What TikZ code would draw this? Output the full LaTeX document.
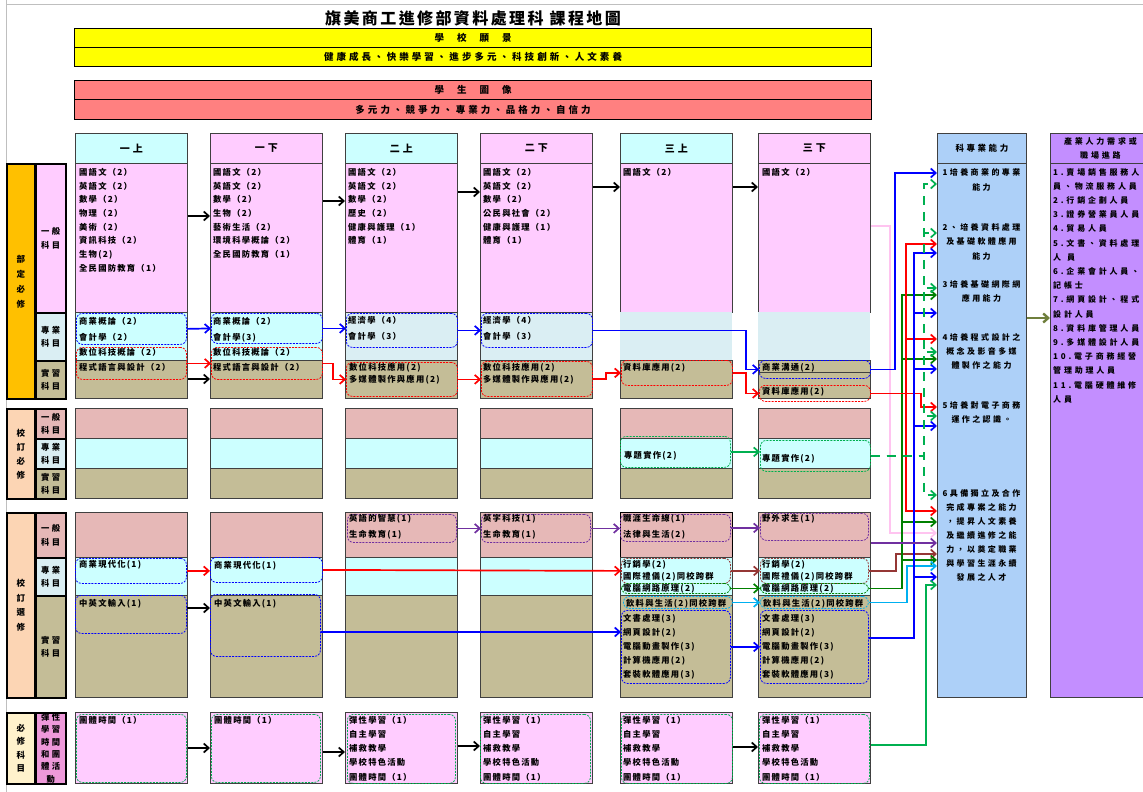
\documentclass[tikz,border=0pt]{standalone}
\usepackage{fontspec}
\setmainfont{Noto Sans CJK TC}
\newfontfamily\cjksp[LetterSpace=15]{Noto Sans CJK TC}
\newfontfamily\cjkwide[LetterSpace=30]{Noto Sans CJK TC}
\newfontfamily\cjkbar[LetterSpace=32]{Noto Sans CJK TC}
\newfontfamily\cjkjob[LetterSpace=35]{Noto Sans CJK TC}
\usepackage{xcolor}
\usetikzlibrary{arrows.meta}
\definecolor{visionyellow}{HTML}{FFFF00}
\definecolor{portraitred}{HTML}{FF8080}
\definecolor{cellpink}{HTML}{FFCCFF}
\definecolor{cellcyan}{HTML}{CCFFFF}
\definecolor{cellblue}{HTML}{DAEEF3}
\definecolor{celltan}{HTML}{C4BD97}
\definecolor{cellrose}{HTML}{E6B8B7}
\definecolor{lblorange}{HTML}{FFC000}
\definecolor{lblpeach}{HTML}{FCD5B4}
\definecolor{lblcream}{HTML}{FFF2CC}
\definecolor{lblmagenta}{HTML}{EE99DA}
\definecolor{compblue}{HTML}{ADD0F8}
\definecolor{jobviolet}{HTML}{C38EFF}
\definecolor{linkgreen}{HTML}{00B050}
\definecolor{darkgreen}{HTML}{008000}
\definecolor{linkpurple}{HTML}{7030A0}
\definecolor{linkbrown}{HTML}{953735}
\definecolor{linksky}{HTML}{00B0F0}
\definecolor{linkpink}{HTML}{FFC4F0}
\definecolor{linkolive}{HTML}{6F7F3C}

\begin{document}
\begin{tikzpicture}[x=1pt, y=-1pt,
    font=\bfseries,
    cellbox/.style={draw=black!75, line width=0.8pt, anchor=north west, inner sep=0pt, minimum width=112},
    hdrbox/.style={cellbox, font=\cjkwide\bfseries\fontsize{10}{12}\selectfont},
    barbox/.style={draw=black, line width=1.1pt, anchor=north west, inner sep=0pt, minimum width=797, font=\cjkbar\bfseries\fontsize{9.5}{11}\selectfont},
    lblbox/.style={draw=black, line width=1.5pt, anchor=north west, inner sep=0pt, minimum width=28, align=center, font=\bfseries\fontsize{8.5}{#1}\selectfont},
    sublbl/.style={draw=black, line width=1.5pt, anchor=north west, inner sep=0pt, minimum width=30, align=center, font=\cjkwide\bfseries\fontsize{8.3}{#1}\selectfont},
    sublbl/.default=13.5,
    sidebox/.style={draw=black!75, line width=0.8pt, anchor=north west, inner sep=0pt},
    dbox/.style={draw=#1, dash pattern=on 2pt off 1.2pt, line width=0.8pt, rounded corners=6pt, anchor=north west, inner sep=0pt},
    txt/.style={anchor=north west, inner sep=0pt, align=left, font=\cjksp\bfseries\fontsize{8.3}{#1}\selectfont},
    txt/.default=13.7,
    ctxt/.style={anchor=north, inner sep=0pt, align=center, font=\cjkwide\bfseries\fontsize{8}{#1}\selectfont},
    ctxt/.default=14.5,
    jtxt/.style={anchor=north west, inner sep=0pt, align=left, font=\cjkjob\bfseries\fontsize{8}{14.2}\selectfont},
    flow/.style={line width=1.7pt, -{Straight Barb[length=5pt,width=9pt]}},
    dflow/.style={flow, dash pattern=on 9pt off 7pt},
  ]
  \useasboundingbox (0,0) rectangle (1143,792);
  \draw[black!25, line width=1pt] (6,0) -- (6,792);
  \draw[black!25, line width=1pt] (6,5) -- (1143,5);
  % title and vision bars
  \node[inner sep=0pt, font=\cjksp\bfseries\fontsize{16}{18}\selectfont] (title) at (473,18) {旗美商工進修部資料處理科 課程地圖};
  \node[barbox, fill=visionyellow, minimum height=19] (vis1) at (74,28) {學\hspace{13pt}校\hspace{13pt}願\hspace{13pt}景};
  \node[barbox, fill=visionyellow, minimum height=19] (vis2) at (74,47) {健康成長、快樂學習、進步多元、科技創新、人文素養};
  \node[barbox, fill=portraitred, minimum height=19] (por1) at (74,80) {學\hspace{13pt}生\hspace{13pt}圖\hspace{13pt}像};
  \node[barbox, fill=portraitred, minimum height=20] (por2) at (74,99) {多元力、競爭力、專業力、品格力、自信力};
  % semester headers
  \node[hdrbox, fill=cellcyan, minimum height=30] (hd1) at (75,133) {一上};
  \node[hdrbox, fill=cellpink, minimum height=30] (hd2) at (210,133) {一下};
  \node[hdrbox, fill=cellcyan, minimum height=30] (hd3) at (345,133) {二上};
  \node[hdrbox, fill=cellpink, minimum height=30] (hd4) at (480,133) {二下};
  \node[hdrbox, fill=cellcyan, minimum height=30] (hd5) at (620,133) {三上};
  \node[hdrbox, fill=cellpink, minimum height=30] (hd6) at (758,133) {三下};
  % row labels
  \node[lblbox=15, fill=lblorange, minimum height=235] (lab1) at (6,163) {部\\定\\必\\修};
  \node[sublbl, fill=cellpink, minimum height=149] (sub11) at (35,163) {一般\\科目};
  \node[sublbl, fill=cellblue, minimum height=48] (sub12) at (35,312) {專業\\科目};
  \node[sublbl, fill=celltan, minimum height=38] (sub13) at (35,360) {實習\\科目};
  \node[lblbox=14, fill=lblpeach, minimum height=90] (lab2) at (6,408) {校\\訂\\必\\修};
  \node[sublbl=13, fill=cellrose, minimum height=30] (sub21) at (35,408) {一般\\科目};
  \node[sublbl=13, fill=cellblue, minimum height=30] (sub22) at (35,438) {專業\\科目};
  \node[sublbl=13, fill=celltan, minimum height=30] (sub23) at (35,468) {實習\\科目};
  \node[lblbox=14.5, fill=lblpeach, minimum height=185] (lab3) at (6,512) {校\\訂\\選\\修};
  \node[sublbl, fill=cellrose, minimum height=45] (sub31) at (35,512) {一般\\科目};
  \node[sublbl, fill=cellblue, minimum height=38] (sub32) at (35,557) {專業\\科目};
  \node[sublbl, fill=celltan, minimum height=102] (sub33) at (35,595) {實習\\科目};
  \node[lblbox=13.5, fill=lblcream, minimum height=71] (lab4) at (6,712) {必\\修\\科\\目};
  \node[sublbl=12.3, fill=lblmagenta, minimum height=71] (sub41) at (35,712) {彈性\\學習\\時間\\和團\\體活\\動};
  % 部定必修 cells
  \node[cellbox, fill=cellpink, minimum height=149] (dg1) at (75,163) {};
  \node[cellbox, fill=cellpink, minimum height=149] (dg2) at (210,163) {};
  \node[cellbox, fill=cellpink, minimum height=149] (dg3) at (345,163) {};
  \node[cellbox, fill=cellpink, minimum height=149] (dg4) at (480,163) {};
  \node[cellbox, fill=cellpink, minimum height=149] (dg5) at (620,163) {};
  \node[cellbox, fill=cellpink, minimum height=149] (dg6) at (758,163) {};
  \node[cellbox, fill=cellcyan, minimum height=48] (dp1) at (75,312) {};
  \node[cellbox, fill=cellcyan, minimum height=48] (dp2) at (210,312) {};
  \node[cellbox, fill=cellblue, minimum height=48] (dp3) at (345,312) {};
  \node[cellbox, fill=cellblue, minimum height=48] (dp4) at (480,312) {};
  \node[cellbox, fill=cellblue, draw=none, minimum height=48] (dp5) at (620,312) {};
  \node[cellbox, fill=cellblue, draw=none, minimum height=48] (dp6) at (758,312) {};
  \node[cellbox, fill=celltan, minimum height=38] (dr1) at (75,360) {};
  \node[cellbox, fill=celltan, minimum height=38] (dr2) at (210,360) {};
  \node[cellbox, fill=celltan, minimum height=38] (dr3) at (345,360) {};
  \node[cellbox, fill=celltan, minimum height=38] (dr4) at (480,360) {};
  \node[cellbox, fill=celltan, minimum height=38] (dr5) at (620,360) {};
  \node[cellbox, fill=celltan, minimum height=12] (dr6) at (758,360) {};
  \node[cellbox, fill=celltan, minimum height=26] (dr6b) at (758,372) {};
  % 校訂必修 cells
  \node[cellbox, fill=cellrose, minimum height=30] (mg1) at (75,408) {};
  \node[cellbox, fill=cellrose, minimum height=30] (mg2) at (210,408) {};
  \node[cellbox, fill=cellrose, minimum height=30] (mg3) at (345,408) {};
  \node[cellbox, fill=cellrose, minimum height=30] (mg4) at (480,408) {};
  \node[cellbox, fill=cellrose, minimum height=30] (mg5) at (620,408) {};
  \node[cellbox, fill=cellrose, minimum height=30] (mg6) at (758,408) {};
  \node[cellbox, fill=cellcyan, minimum height=30] (mp1) at (75,438) {};
  \node[cellbox, fill=cellcyan, minimum height=30] (mp2) at (210,438) {};
  \node[cellbox, fill=cellcyan, minimum height=30] (mp3) at (345,438) {};
  \node[cellbox, fill=cellcyan, minimum height=30] (mp4) at (480,438) {};
  \node[cellbox, fill=cellcyan, minimum height=30] (mp5) at (620,438) {};
  \node[cellbox, fill=cellcyan, minimum height=30] (mp6) at (758,438) {};
  \node[cellbox, fill=celltan, minimum height=30] (mr1) at (75,468) {};
  \node[cellbox, fill=celltan, minimum height=30] (mr2) at (210,468) {};
  \node[cellbox, fill=celltan, minimum height=30] (mr3) at (345,468) {};
  \node[cellbox, fill=celltan, minimum height=30] (mr4) at (480,468) {};
  \node[cellbox, fill=celltan, minimum height=30] (mr5) at (620,468) {};
  \node[cellbox, fill=celltan, minimum height=30] (mr6) at (758,468) {};
  % 校訂選修 cells
  \node[cellbox, fill=cellrose, minimum height=45] (sg1) at (75,512) {};
  \node[cellbox, fill=cellrose, minimum height=45] (sg2) at (210,512) {};
  \node[cellbox, fill=cellrose, minimum height=45] (sg3) at (345,512) {};
  \node[cellbox, fill=cellrose, minimum height=45] (sg4) at (480,512) {};
  \node[cellbox, fill=cellrose, minimum height=45, draw=black, line width=1.3pt] (sg5) at (620,512) {};
  \node[cellbox, fill=cellrose, minimum height=45] (sg6) at (758,512) {};
  \node[cellbox, fill=cellcyan, minimum height=38] (sp1) at (75,557) {};
  \node[cellbox, fill=cellcyan, minimum height=38] (sp2) at (210,557) {};
  \node[cellbox, fill=cellcyan, minimum height=38] (sp3) at (345,557) {};
  \node[cellbox, fill=cellcyan, minimum height=38] (sp4) at (480,557) {};
  \node[cellbox, fill=cellcyan, minimum height=38] (sp5) at (620,557) {};
  \node[cellbox, fill=cellcyan, minimum height=38] (sp6) at (758,557) {};
  \node[cellbox, fill=celltan, minimum height=102] (sr1) at (75,595) {};
  \node[cellbox, fill=celltan, minimum height=102] (sr2) at (210,595) {};
  \node[cellbox, fill=celltan, minimum height=102] (sr3) at (345,595) {};
  \node[cellbox, fill=celltan, minimum height=102] (sr4) at (480,595) {};
  \node[cellbox, fill=celltan, minimum height=102] (sr5) at (620,595) {};
  \node[cellbox, fill=celltan, minimum height=102] (sr6) at (758,595) {};
  % 彈性學習 cells
  \node[cellbox, fill=cellpink, minimum height=71] (fx1) at (75,712) {};
  \node[cellbox, fill=cellpink, minimum height=71] (fx2) at (210,712) {};
  \node[cellbox, fill=cellpink, minimum height=71] (fx3) at (345,712) {};
  \node[cellbox, fill=cellpink, minimum height=71] (fx4) at (480,712) {};
  \node[cellbox, fill=cellpink, minimum height=71] (fx5) at (620,712) {};
  \node[cellbox, fill=cellpink, minimum height=71] (fx6) at (758,712) {};
  % competence and career columns
  \node[sidebox, fill=compblue, minimum width=89, minimum height=30, font=\cjkwide\bfseries\fontsize{8.5}{10}\selectfont] (comphd) at (937,133) {科專業能力};
  \node[sidebox, fill=compblue, minimum width=89, minimum height=534] (comp) at (937,163) {};
  \node[sidebox, fill=jobviolet, minimum width=100, minimum height=30, align=center, font=\cjkjob\bfseries\fontsize{8}{14.5}\selectfont] (jobshd) at (1050,133) {產業人力需求或\\職場進路};
  \node[sidebox, fill=jobviolet, minimum width=100, minimum height=534] (jobs) at (1050,163) {};
  % dashed course groups
  \node[dbox=blue, minimum width=110, minimum height=31] (bizA) at (76,313) {};
  \node[dbox=red, minimum width=110, minimum height=32] (digA) at (76,347) {};
  \node[dbox=blue, minimum width=111, minimum height=30] (bizB) at (211,313) {};
  \node[dbox=red, minimum width=111, minimum height=32] (digB) at (211,347) {};
  \node[dbox=blue, minimum width=111, minimum height=34] (ecoA) at (346,313) {};
  \node[dbox=red, minimum width=111, minimum height=34] (mmA) at (346,362) {};
  \node[dbox=blue, minimum width=111, minimum height=34] (ecoB) at (481,313) {};
  \node[dbox=red, minimum width=111, minimum height=35] (mmB) at (481,361) {};
  \node[dbox=red, minimum width=111, minimum height=25] (dbA) at (621,360) {};
  \node[dbox=blue, minimum width=111, minimum height=18] (comm) at (759,360) {};
  \node[dbox=red, minimum width=111, minimum height=16] (dbB) at (759,385) {};
  \node[dbox=linkgreen, minimum width=110, minimum height=31] (projA) at (620,436) {};
  \node[dbox=linkgreen, minimum width=110, minimum height=31] (projB) at (760,440) {};
  \node[dbox=linkpurple, minimum width=109, minimum height=28] (engA) at (347,514) {};
  \node[dbox=linkpurple, minimum width=109, minimum height=28] (engB) at (481,514) {};
  \node[dbox=linkpurple, minimum width=110, minimum height=27] (lawA) at (620,514) {};
  \node[dbox=linkpurple, minimum width=108, minimum height=27] (wild) at (760,513) {};
  \node[dbox=blue, minimum width=111, minimum height=25] (modA) at (75,558) {};
  \node[dbox=blue, minimum width=112, minimum height=25] (modB) at (210,557) {};
  \node[dbox=linkbrown, minimum width=109, minimum height=25] (mktA) at (621,558) {};
  \node[dbox=darkgreen, minimum width=109, minimum height=10] (netA) at (621,583) {};
  \node[dbox=linkbrown, minimum width=108, minimum height=25] (mktB) at (760,558) {};
  \node[dbox=darkgreen, minimum width=108, minimum height=10] (netB) at (760,583) {};
  \node[dbox=linksky, minimum width=109, minimum height=12] (bevA) at (623,596) {};
  \node[dbox=linksky, minimum width=108, minimum height=12] (bevB) at (760,596) {};
  \node[dbox=blue, minimum width=109, minimum height=73] (offA) at (621,610) {};
  \node[dbox=blue, minimum width=108, minimum height=73] (offB) at (760,610) {};
  \node[dbox=blue, minimum width=111, minimum height=38] (typA) at (75,595) {};
  \node[dbox=blue, minimum width=110, minimum height=62] (typB) at (210,594) {};
  \node[dbox=linkgreen, minimum width=110, minimum height=68] (grpA) at (76,714) {};
  \node[dbox=linkgreen, minimum width=109, minimum height=68] (grpB) at (211,714) {};
  \node[dbox=linkgreen, minimum width=108, minimum height=69] (flexA) at (347,714) {};
  \node[dbox=linkgreen, minimum width=110, minimum height=69] (flexB) at (480,714) {};
  \node[dbox=linkgreen, minimum width=111, minimum height=69] (flexC) at (621,714) {};
  \node[dbox=linkgreen, minimum width=110, minimum height=69] (flexD) at (759,714) {};
  % course texts
  \node[txt] (t1g) at (79,168) {國語文（2）\\英語文（2）\\數學（2）\\物理（2）\\美術（2）\\資訊科技（2）\\生物(2)\\全民國防教育（1）};
  \node[txt] (t2g) at (213,168) {國語文（2）\\英語文（2）\\數學（2）\\生物（2）\\藝術生活（2）\\環境科學概論（2）\\全民國防教育（1）};
  \node[txt] (t3g) at (348,168) {國語文（2）\\英語文（2）\\數學（2）\\歷史（2）\\健康與護理（1）\\體育（1）};
  \node[txt] (t4g) at (483,168) {國語文（2）\\英語文（2）\\數學（2）\\公民與社會（2）\\健康與護理（1）\\體育（1）};
  \node[txt] (t5g) at (623,168) {國語文（2）};
  \node[txt] (t6g) at (762,168) {國語文（2）};
  \node[txt=16] (t1p) at (79,317) {商業概論（2）\\會計學（2）};
  \node[txt=16] (t2p) at (213,317) {商業概論（2）\\會計學(3)};
  \node[txt=16] (t3p) at (348,316) {經濟學（4）\\會計學（3）};
  \node[txt=16] (t4p) at (483,316) {經濟學（4）\\會計學（3）};
  \node[txt=15] (t1r) at (79,348) {數位科技概論（2）\\程式語言與設計（2）};
  \node[txt=15] (t2r) at (213,348) {數位科技概論（2）\\程式語言與設計（2）};
  \node[txt=12.5] (t3r) at (349,363) {數位科技應用(2)\\多媒體製作與應用(2)};
  \node[txt=12.5] (t4r) at (483,363) {數位科技應用(2)\\多媒體製作與應用(2)};
  \node[txt] (t5r) at (623,363) {資料庫應用(2)};
  \node[txt] (t6p) at (762,363) {商業溝通(2)};
  \node[txt] (t6r) at (762,387) {資料庫應用(2)};
  \node[txt] (t5m) at (624,451) {專題實作(2)};
  \node[txt] (t6m) at (762,454) {專題實作(2)};
  \node[txt=16] (t3s) at (349,514) {英語的智慧(1)\\生命教育(1)};
  \node[txt=16] (t4s) at (483,514) {英字科技(1)\\生命教育(1)};
  \node[txt=16] (t5s) at (623,514) {職涯生命線(1)\\法律與生活(2)};
  \node[txt] (t6s) at (762,514) {野外求生(1)};
  \node[txt] (t1sp) at (79,560) {商業現代化(1)};
  \node[txt] (t2sp) at (214,561) {商業現代化(1)};
  \node[txt=12] (t5sp) at (623,560) {行銷學(2)\\國際禮儀(2)同校跨群};
  \node[txt] (t5sn) at (623,584) {電腦網路原理(2)};
  \node[txt=12] (t6sp) at (762,560) {行銷學(2)\\國際禮儀(2)同校跨群};
  \node[txt] (t6sn) at (762,584) {電腦網路原理(2)};
  \node[txt] (t5sb) at (626,599) {飲料與生活(2)同校跨群};
  \node[txt] (t6sb) at (763,599) {飲料與生活(2)同校跨群};
  \node[txt=14] (t5so) at (623,614) {文書處理(3)\\網頁設計(2)\\電腦動畫製作(3)\\計算機應用(2)\\套裝軟體應用(3)};
  \node[txt=14] (t6so) at (762,614) {文書處理(3)\\網頁設計(2)\\電腦動畫製作(3)\\計算機應用(2)\\套裝軟體應用(3)};
  \node[txt] (t1st) at (79,599) {中英文輸入(1)};
  \node[txt] (t2st) at (214,599) {中英文輸入(1)};
  \node[txt] (t1f) at (79,716) {團體時間（1）};
  \node[txt] (t2f) at (214,716) {團體時間（1）};
  \node[txt=14.2] (t3f) at (349,716) {彈性學習（1）\\自主學習\\補救教學\\學校特色活動\\團體時間（1）};
  \node[txt=14.2] (t4f) at (483,716) {彈性學習（1）\\自主學習\\補救教學\\學校特色活動\\團體時間（1）};
  \node[txt=14.2] (t5f) at (623,716) {彈性學習（1）\\自主學習\\補救教學\\學校特色活動\\團體時間（1）};
  \node[txt=14.2] (t6f) at (762,716) {彈性學習（1）\\自主學習\\補救教學\\學校特色活動\\團體時間（1）};
  % competence texts
  \node[ctxt=15] (compA) at (981.5,168) {1培養商業的專業\\能力};
  \node[ctxt] (compB) at (981.5,223) {2、培養資料處理\\及基礎軟體應用\\能力};
  \node[ctxt] (compC) at (981.5,280) {3培養基礎網際網\\應用能力};
  \node[ctxt=14] (compD) at (981.5,333) {4培養程式設計之\\概念及影音多媒\\體製作之能力};
  \node[ctxt=14] (compE) at (981.5,401) {5培養對電子商務\\運作之認識。};
  \node[ctxt=14] (compF) at (981.5,489) {6具備獨立及合作\\完成專案之能力\\，提昇人文素養\\及繼續進修之能\\力，以奠定職業\\與學習生涯永續\\發展之人才};
  \node[jtxt] (jobtxt) at (1053,168) {1.賣場銷售服務人\\員、物流服務人員\\2.行銷企劃人員\\3.證券營業員人員\\4.貿易人員\\5.文書、資料處理\\人\hspace{6pt}員\\6.企業會計人員、\\記帳士\\7.網頁設計、程式\\設計人員\\8.資料庫管理人員\\9.多媒體設計人員\\10.電子商務經營\\管理助理人員\\11.電腦硬體維修\\人員};
  % 部定必修 links
  \draw[flow] (dg1.east |- 0,216) -- (dg2.west |- 0,216);
  \draw[flow] (dg2.east |- 0,201) -- (dg3.west |- 0,201);
  \draw[flow] (dg3.east |- 0,192) -- (dg4.west |- 0,192);
  \draw[flow] (dg4.east |- 0,187) -- (dg5.west |- 0,187);
  \draw[flow] (dg5.east |- 0,187) -- (dg6.west |- 0,187);
  \draw[flow, blue] (bizA.east) -- (bizB.west);
  \draw[flow, blue] (bizB.east) -- (ecoA.west |- bizB.east);
  \draw[flow, blue] (ecoA.east) -- (ecoB.west);
  \draw[flow, blue] (ecoB.east) -- ++(153,0) |- (comm.west);
  \draw[flow, red] (digA.east) -- (digB.west);
  \draw[flow, red] (digB.east) -- ++(10,0) |- (mmA.west);
  \draw[flow, red] (mmA.east) -- (mmB.west |- mmA.east);
  \draw[flow, red] (mmB.east) -- ++(13,0) |- (dbA.west);
  \draw[flow, red] (dbA.east) -- ++(13,0) |- (dbB.west);
  \draw[flow] (dr1.east |- 0,379) -- (dr2.west |- 0,379);
  % 校訂 links
  \draw[flow, linkgreen] (projA.east) -- (projB.west |- projA.east);
  \draw[flow, linkpurple] (engA.east) -- (engB.west);
  \draw[flow, linkpurple] (engB.east) -- (lawA.west |- engB.east);
  \draw[flow, linkpurple] (lawA.east) -- (wild.west |- lawA.east);
  \draw[flow, red] (modA.east) -- (modB.west |- modA.east);
  \draw[flow, red] (modB.east) -- (mktA.west);
  \draw[flow] (typA.east |- 0,608) -- (typB.west |- 0,608);
  \draw[flow, blue] (typB.east |- 0,632) -- (offA.west |- 0,632);
  \draw[flow, linkbrown] (mktA.east) -- (mktB.west |- mktA.east);
  \draw[flow, darkgreen] (netA.east) -- (netB.west |- netA.east);
  \draw[flow, linksky] (bevA.east) -- (bevB.west |- bevA.east);
  \draw[flow, blue] (offA.east) -- (offB.west |- offA.east);
  % 彈性學習 links
  \draw[flow] (fx1.east |- 0,748) -- (fx2.west |- 0,748);
  \draw[flow] (fx2.east |- 0,752) -- (fx3.west |- 0,752);
  \draw[flow] (fx3.east |- 0,746) -- (fx4.west |- 0,746);
  \draw[flow] (fx5.east |- 0,747) -- (fx6.west |- 0,747);
  % links into competences
  \draw[flow, linkpink] (dg6.east |- 0,226) -- ++(19,0) |- (comp.west |- 0,533);
  \draw[flow, blue] (comm.east) -- ++(24,0) |- (comp.west |- 0,173);
  \draw[flow, linkbrown] (mktB.east) -- ++(27,0) |- (comp.west |- 0,554);
  \draw[flow, darkgreen] (netB.east) -- ++(33,0) |- (comp.west |- 0,295);
  \draw[flow, darkgreen] (netB.east) -- ++(33,0) |- (comp.west |- 0,359);
  \draw[flow, darkgreen] (netB.east) -- ++(33,0) |- (comp.west |- 0,522);
  \draw[flow, darkgreen] (netB.east) -- ++(33,0) |- (comp.west |- 0,560);
  \draw[flow, red] (dbB.east) -- ++(35,0) |- (comp.west |- 0,244);
  \draw[flow, red] (dbB.east) -- ++(35,0) |- (comp.west |- 0,339);
  \draw[flow, red] (dbB.east) -- ++(35,0) |- (comp.west |- 0,511);
  \draw[flow, red] (dbB.east) -- ++(50,0) |- (comp.west |- 0,407);
  \draw[flow, linksky] (bevB.east) -- ++(38,0) |- (comp.west |- 0,566);
  \draw[flow, blue] (offB.east |- 0,638) -- ++(45,0) |- (comp.west |- 0,253);
  \draw[flow, blue] (offB.east |- 0,638) -- ++(45,0) |- (comp.west |- 0,313);
  \draw[flow, blue] (offB.east |- 0,638) -- ++(45,0) |- (comp.west |- 0,369);
  \draw[flow, blue] (offB.east |- 0,638) -- ++(45,0) |- (comp.west |- 0,426);
  \draw[flow, blue] (offB.east |- 0,638) -- ++(45,0) |- (comp.west |- 0,577);
  \draw[dflow, linkgreen] (projB.east) -- ++(53,0) |- (comp.west |- 0,184);
  \draw[dflow, linkgreen] (projB.east) -- ++(53,0) |- (comp.west |- 0,233);
  \draw[dflow, linkgreen] (projB.east) -- ++(53,0) |- (comp.west |- 0,288);
  \draw[dflow, linkgreen] (projB.east) -- ++(53,0) |- (comp.west |- 0,352);
  \draw[dflow, linkgreen] (projB.east) -- ++(53,0) |- (comp.west |- 0,416);
  \draw[dflow, linkgreen] (projB.east) -- ++(53,0) |- (comp.west |- 0,495);
  \draw[flow, linkpurple] (sg6.east |- 0,543) -- (comp.west |- 0,543);
  \draw[flow, linkgreen] (fx6.east |- 0,745) -- ++(55,0) |- (comp.west |- 0,585);
  \draw[flow, linkolive, line width=2.4pt] (comp.east |- 0,318) -- (jobs.west |- 0,318);
\end{tikzpicture}
\end{document}
